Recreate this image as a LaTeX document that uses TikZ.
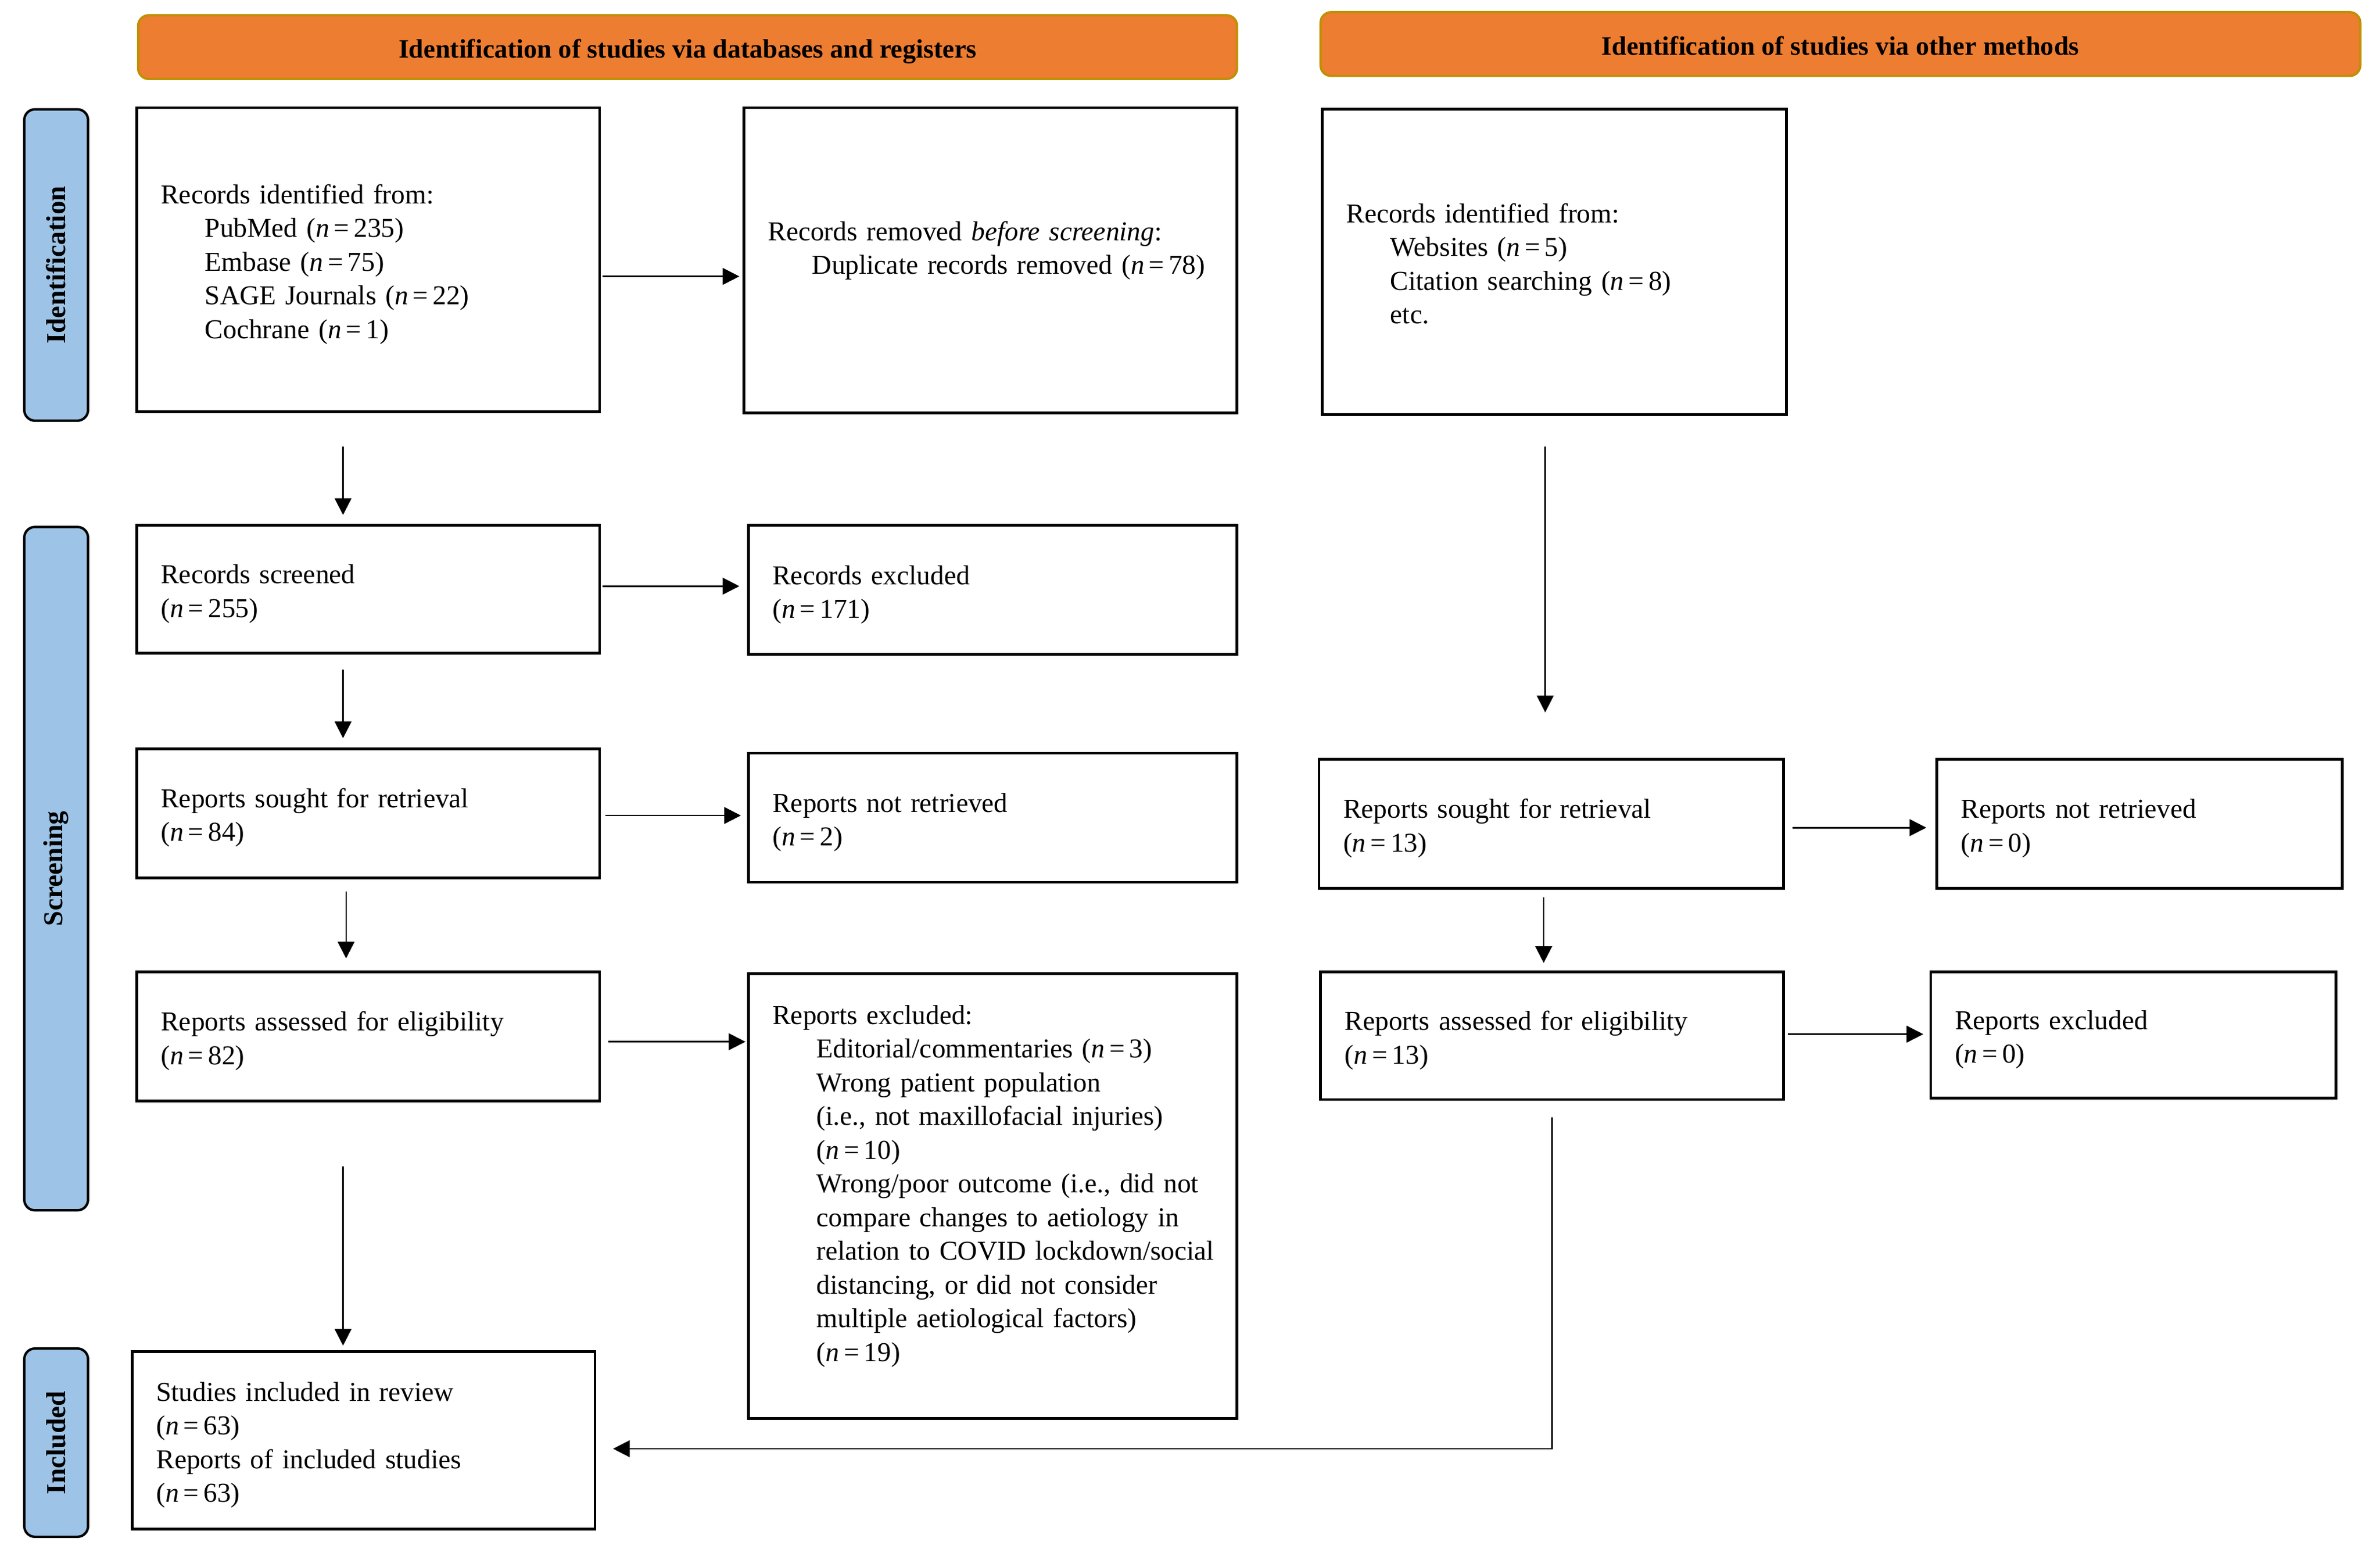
\documentclass[tikz,border=0pt]{standalone}
\usepackage{fontspec}
\setmainfont{Liberation Serif}
\usetikzlibrary{arrows.meta}
\definecolor{hdrorange}{HTML}{ED7D31}
\definecolor{hdrgold}{HTML}{BF9000}
\definecolor{sideblue}{HTML}{9DC3E6}
\newcommand{\ind}{\hspace*{29pt}}
\newcommand{\nn}[1]{\textit{n}\,=\,#1}
\newcommand{\boxlines}[1]{\begin{tabular}{@{}l@{}}\rule{0pt}{21.5pt}#1\end{tabular}}
\begin{document}
\begin{tikzpicture}[x=1pt,y=-1pt,
  box/.style={draw, line width=1.8pt, inner xsep=16pt, inner ysep=0pt, align=left, font=\fontsize{18}{22.2}\selectfont},
  hdr/.style={draw=hdrgold, fill=hdrorange, line width=1.5pt, rounded corners=7pt, font=\fontsize{17.5}{20}\selectfont\bfseries, inner sep=0pt, text height=18.5pt, text depth=4pt},
  side/.style={draw=black, fill=sideblue, line width=1.6pt, rounded corners=7pt, font=\fontsize{18}{20}\selectfont\bfseries, inner sep=0pt},
  arr/.style={line width=1pt, -{Triangle[length=11pt,width=11pt]}}]
\useasboundingbox (0,0) rectangle (1568,1020);

% headers
\node[hdr, minimum width=724pt, minimum height=42pt] (H1) at (453,31) {Identification of studies via databases and registers};
\node[hdr, minimum width=685pt, minimum height=42pt] (H2) at (1212.5,29) {Identification of studies via other methods};

% side labels
\node[side, minimum width=42pt, minimum height=205pt] (S1) at (37,174.5) {\rotatebox{90}{Identification}};
\node[side, minimum width=42pt, minimum height=450pt] (S2) at (37,572) {\rotatebox{90}{Screening}};
\node[side, minimum width=42pt, minimum height=124pt] (S3) at (37,950) {\rotatebox{90}{Included}};

% left column
\node[box, text width=273pt, minimum height=200pt] (B1) at (242.5,171) {\boxlines{Records identified from:\\ \ind PubMed (\nn{235})\\ \ind Embase (\nn{75})\\ \ind SAGE Journals (\nn{22})\\ \ind Cochrane (\nn{1})}};
\node[box, text width=293pt, minimum height=201pt] (B2) at (652.5,171.5) {\boxlines{Records removed \textit{before screening}:\\ \ind Duplicate records removed (\nn{78})\\[19pt]}};
\node[box, text width=273pt, minimum height=84pt] (B3) at (242.5,388) {\boxlines{Records screened\\ (\nn{255})}};
\node[box, text width=290pt, minimum height=85pt] (B4) at (654,388.5) {\boxlines{Records excluded\\ (\nn{171})}};
\node[box, text width=273pt, minimum height=85pt] (B5) at (242.5,535.5) {\boxlines{Reports sought for retrieval\\ (\nn{84})}};
\node[box, text width=290pt, minimum height=85pt] (B6) at (654,538.5) {\boxlines{Reports not retrieved\\ (\nn{2})}};
\node[box, text width=273pt, minimum height=85pt] (B7) at (242.5,682.5) {\boxlines{Reports assessed for eligibility\\ (\nn{82})}};
\node[box, text width=290pt, minimum height=293pt] (B8) at (654,787.5) {\boxlines{Reports excluded:\\
 \ind Editorial/commentaries (\nn{3})\\
 \ind Wrong patient population\\
 \ind (i.e., not maxillofacial injuries)\\
 \ind (\nn{10})\\
 \ind Wrong/poor outcome (i.e., did not\\
 \ind compare changes to aetiology in\\
 \ind relation to COVID lockdown/social\\
 \ind distancing, or did not consider\\
 \ind multiple aetiological factors)\\
 \ind (\nn{19})\\[19pt]}};
\node[box, text width=273pt, minimum height=117pt] (B9) at (239.5,948.5) {\boxlines{Studies included in review\\ (\nn{63})\\ Reports of included studies\\ (\nn{63})}};

% right column
\node[box, text width=274pt, minimum height=201pt] (R1) at (1024,172.5) {\boxlines{Records identified from:\\ \ind Websites (\nn{5})\\ \ind Citation searching (\nn{8})\\ \ind etc.}};
\node[box, text width=274pt, minimum height=85pt] (R2) at (1022,542.5) {\boxlines{Reports sought for retrieval\\ (\nn{13})}};
\node[box, text width=235pt, minimum height=85pt] (R3) at (1409.5,542.5) {\boxlines{Reports not retrieved\\ (\nn{0})}};
\node[box, text width=273pt, minimum height=84pt] (R4) at (1022.5,682) {\boxlines{Reports assessed for eligibility\\ (\nn{13})}};
\node[box, text width=235pt, minimum height=83pt] (R5) at (1405.5,681.5) {\boxlines{Reports excluded\\ (\nn{0})}};

% connectors
\draw[arr, shorten <=1pt, shorten >=2pt] ([yshift=-11pt]B1.east) -- ([yshift=-11pt]B1.east -| B2.west);
\draw[arr, shorten <=22pt, shorten >=6pt] ([xshift=-16.5pt]B1.south) -- ([xshift=-16.5pt]B1.south |- B3.north);
\draw[arr, shorten <=1pt, shorten >=5pt] ([yshift=2pt]B3.east) -- ([yshift=2pt]B3.east -| B4.west);
\draw[arr, shorten <=10pt, shorten >=6pt] ([xshift=-16.5pt]B3.south) -- ([xshift=-16.5pt]B3.south |- B5.north);
\draw[arr, shorten <=3pt, shorten >=4pt] ([yshift=-1.5pt]B5.east) -- ([yshift=-1.5pt]B5.east -| B6.west);
\draw[arr, shorten <=8pt, shorten >=8pt] ([xshift=-14.5pt]B5.south) -- ([xshift=-14.5pt]B5.south |- B7.north);
\draw[arr, shorten <=5pt, shorten >=1pt] ([yshift=-3.5pt]B7.east) -- ([yshift=-3.5pt]B7.east -| B8.west);
\draw[arr, shorten <=42pt, shorten >=3pt] ([xshift=-16.5pt]B7.south) -- ([xshift=-16.5pt]B7.south |- B9.north);
\draw[arr, shorten <=20pt, shorten >=30pt] ([xshift=-6pt]R1.south) -- ([xshift=-6pt]R1.south |- R2.north);
\draw[arr, shorten <=5pt, shorten >=6pt] ([yshift=-2.5pt]R2.east) -- ([yshift=-2.5pt]R2.east -| R3.west);
\draw[arr, shorten <=5pt, shorten >=5pt] ([xshift=-5pt]R2.south) -- ([xshift=-5pt]R2.south |- R4.north);
\draw[arr, shorten <=2pt, shorten >=4pt] ([yshift=1pt]R4.east) -- ([yshift=1pt]R4.east -| R5.west);
\draw[arr, shorten <=11pt, shorten >=11pt] (R4.south) |- ([yshift=-5.5pt]B9.east);
\end{tikzpicture}
\end{document}
